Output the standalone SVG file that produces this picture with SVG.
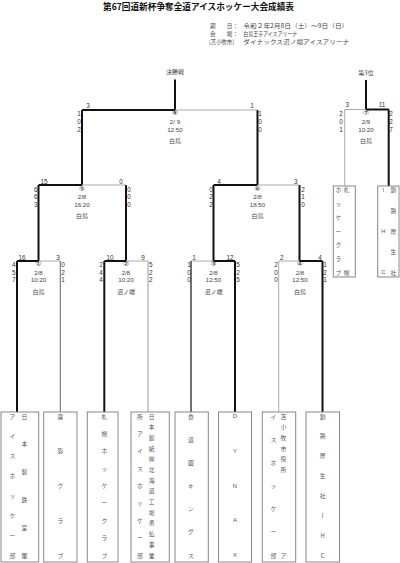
<svg xmlns="http://www.w3.org/2000/svg" width="400" height="563" viewBox="0 0 400 563">
<style>
text{font-family:"Noto Sans CJK JP","Noto Sans",sans-serif;fill:#333;}
.ttl{font-size:8.6px;font-weight:bold;fill:#111;}
.hd{font-size:5.6px;fill:#444;}
.c{font-size:6px;text-anchor:middle;dominant-baseline:central;fill:#444;}
.cn{font-family:"Liberation Sans",sans-serif;font-size:6.2px;text-anchor:middle;dominant-baseline:central;fill:#444;}
.cc{font-family:"DejaVu Sans",sans-serif;font-size:6.6px;text-anchor:middle;dominant-baseline:central;fill:#222;}
.s{font-family:"Liberation Sans",sans-serif;font-size:6.4px;text-anchor:middle;dominant-baseline:central;fill:#333;}
.nm{font-size:5.8px;text-anchor:middle;dominant-baseline:central;fill:#555;}
.nml{font-family:"Liberation Sans",sans-serif;font-size:6px;text-anchor:middle;dominant-baseline:central;fill:#555;}
.box{fill:#fff;stroke:#888;stroke-width:1;}
.w{stroke:#111;stroke-width:2;fill:none;}
.l{stroke:#aaa;stroke-width:1;fill:none;}
.lg{stroke:#bbb;stroke-width:1.5;fill:none;}
.d{stroke:#666;stroke-width:1;fill:none;}
.k{stroke:#222;stroke-width:1.3;fill:none;}
</style>
<rect width="400" height="563" fill="#fff"/>
<g id="header">
<text class="ttl" x="198.5" y="10.3" text-anchor="middle" textLength="191" lengthAdjust="spacingAndGlyphs">第67回道新杯争奪全道アイスホッケー大会成績表</text>
<text class="hd" x="210" y="28">期　　日：</text>
<text class="hd" x="243.3" y="28" textLength="105" lengthAdjust="spacingAndGlyphs">令和２年2月8日（土）～9日（日）</text>
<text class="hd" x="210" y="35.5">会　　場：</text>
<text class="hd" x="243.3" y="35.5" textLength="54" lengthAdjust="spacingAndGlyphs">白鳥王子アイスアリーナ</text>
<text class="hd" x="209" y="43.5" textLength="25" lengthAdjust="spacingAndGlyphs">[苫小牧市]</text>
<text class="hd" x="243.3" y="43.5" textLength="106" lengthAdjust="spacingAndGlyphs">ダイナックス沼ノ端アイスアリーナ</text>
</g>
<g id="connectors">
<path class="w" d="M175 79.5V110M82 110H175M82 110V185M257.5 110V185"/>
<path class="l" d="M175 110H257.5"/>
<path class="w" d="M38.5 185H82M38.5 185V261M126 185V261"/>
<path class="l" d="M82 185H126"/>
<path class="w" d="M213.5 185H257.5M213.5 185V261M299.5 185V261"/>
<path class="l" d="M257.5 185H299.5"/>
<path class="w" d="M17 261H38.5M17 261V412"/>
<path class="l" d="M38.5 261H60.3"/>
<path class="d" d="M60.3 261V412"/>
<path class="w" d="M104.3 261H126M104.3 261V412"/>
<path class="l" d="M126 261H148"/>
<path class="lg" d="M148 261V412"/>
<path class="l" d="M191 261H213.5"/>
<path class="k" d="M191 261V412"/>
<path class="w" d="M213.5 261H235M235 261V412"/>
<path class="l" d="M278.7 261H299.5M278.7 261V412"/>
<path class="w" d="M299.5 261H322.5M322.5 261V412"/>
<path class="w" d="M366 80V109.5M366 109.5H388.7M388.7 109.5V186"/>
<path class="l" d="M344.7 109.5H366M344.7 109.5V186"/>
</g>
<g id="m8">
<text class="c" x="175" y="71.7">決勝戦</text>
<text class="s" x="88" y="105">3</text><text class="s" x="252" y="105">1</text>
<text class="s" x="79" y="113">1</text><text class="s" x="79" y="121">0</text><text class="s" x="79" y="129">2</text>
<text class="s" x="260" y="113">1</text><text class="s" x="260" y="121">0</text><text class="s" x="260" y="129">0</text>
<text class="cc" x="175" y="113">⑧</text><text class="cn" x="175" y="121">2/ 9</text><text class="cn" x="175" y="129">12:50</text><text class="c" x="175" y="140">白鳥</text>
</g>
<g id="m7">
<text class="c" x="366" y="72">第3位</text>
<text class="s" x="347.3" y="104.5">3</text><text class="s" x="382" y="104.5">11</text>
<text class="s" x="341" y="113">2</text><text class="s" x="341" y="121">0</text><text class="s" x="341" y="129">1</text>
<text class="s" x="391" y="113">2</text><text class="s" x="391" y="121">2</text><text class="s" x="391" y="129">7</text>
<text class="cc" x="366" y="113">⑦</text><text class="cn" x="366" y="121">2/9</text><text class="cn" x="366" y="129">10:20</text><text class="c" x="366" y="140">白鳥</text>
</g>
<g id="m5">
<text class="s" x="44" y="181.5">15</text><text class="s" x="121" y="181.5">0</text>
<text class="s" x="35.7" y="189">6</text><text class="s" x="35.7" y="196.7">6</text><text class="s" x="35.7" y="204.4">3</text>
<text class="s" x="129" y="189">0</text><text class="s" x="129" y="196.7">0</text><text class="s" x="129" y="204.4">0</text>
<text class="cc" x="82" y="189">⑤</text><text class="cn" x="82" y="196.7">2/8</text><text class="cn" x="82" y="204.4">16:20</text><text class="c" x="82" y="215.5">白鳥</text>
</g>
<g id="m6">
<text class="s" x="219" y="181.5">4</text><text class="s" x="295.7" y="181.5">3</text>
<text class="s" x="211" y="189">0</text><text class="s" x="211" y="196.7">2</text><text class="s" x="211" y="204.4">2</text>
<text class="s" x="303" y="189">2</text><text class="s" x="303" y="196.7">1</text><text class="s" x="303" y="204.4">0</text>
<text class="cc" x="257.5" y="189">⑥</text><text class="cn" x="257.5" y="196.7">2/8</text><text class="cn" x="257.5" y="204.4">18:50</text><text class="c" x="257.5" y="215.5">白鳥</text>
</g>
<g id="m1">
<text class="s" x="22" y="257">16</text><text class="s" x="58" y="257">3</text>
<text class="s" x="13.7" y="264.3">4</text><text class="s" x="13.7" y="272">5</text><text class="s" x="13.7" y="279.7">7</text>
<text class="s" x="63" y="264.3">0</text><text class="s" x="63" y="272">2</text><text class="s" x="63" y="279.7">1</text>
<text class="cc" x="38.5" y="264.3">①</text><text class="cn" x="38.5" y="272">2/8</text><text class="cn" x="38.5" y="279.7">10:20</text><text class="c" x="38.5" y="291">白鳥</text>
</g>
<g id="m2">
<text class="s" x="110" y="257">10</text><text class="s" x="143" y="257">9</text>
<text class="s" x="101" y="264.3">2</text><text class="s" x="101" y="272">4</text><text class="s" x="101" y="279.7">4</text>
<text class="s" x="150.7" y="264.3">5</text><text class="s" x="150.7" y="272">2</text><text class="s" x="150.7" y="279.7">2</text>
<text class="cc" x="126" y="264.3">②</text><text class="cn" x="126" y="272">2/8</text><text class="cn" x="126" y="279.7">10:20</text><text class="c" x="126" y="291">沼ノ端</text>
</g>
<g id="m3">
<text class="s" x="194" y="257">1</text><text class="s" x="230" y="257">12</text>
<text class="s" x="189" y="264.3">1</text><text class="s" x="189" y="272">0</text><text class="s" x="189" y="279.7">0</text>
<text class="s" x="238" y="264.3">5</text><text class="s" x="238" y="272">2</text><text class="s" x="238" y="279.7">5</text>
<text class="cc" x="213.5" y="264.3">③</text><text class="cn" x="213.5" y="272">2/8</text><text class="cn" x="213.5" y="279.7">12:50</text><text class="c" x="213.5" y="291">沼ノ端</text>
</g>
<g id="m4">
<text class="s" x="281.7" y="257">2</text><text class="s" x="320" y="257">4</text>
<text class="s" x="276" y="264.3">2</text><text class="s" x="276" y="272">0</text><text class="s" x="276" y="279.7">0</text>
<text class="s" x="325" y="264.3">1</text><text class="s" x="325" y="272">2</text><text class="s" x="325" y="279.7">1</text>
<text class="cc" x="300" y="264.3">④</text><text class="cn" x="300" y="272">2/8</text><text class="cn" x="300" y="279.7">12:50</text><text class="c" x="300" y="291">白鳥</text>
</g>
<g id="team-nipponsteel">
<rect class="box" x="1" y="412" width="37.7" height="150"/>
<text class="nm" x="24.3 24.3 24.3 24.3 24.3 24.3" y="416 443.8 471.6 499.4 527.2 555">日本製鉄室蘭</text>
<text class="nm" x="12.3 12.3 12.3 12.3 12.3 12.3 12.3 12.3" y="416 435.9 455.7 475.6 495.4 515.3 535.1 555">アイスホッケー部</text>
</g>
<g id="team-kirikage">
<rect class="box" x="43.7" y="412" width="33.3" height="150"/>
<text class="nm" x="60.3 60.3 60.3 60.3 60.3" y="416 450.75 485.5 520.25 555">霧影クラブ</text>
</g>
<g id="team-sapporo">
<rect class="box" x="87.3" y="412" width="30.7" height="150"/>
<text class="nm" x="104.3 104.3 104.3 104.3 104.3 104.3 104.3 104.3 104.3" y="416 433.4 450.75 468.1 485.5 502.9 520.25 537.6 555">札幌ホッケークラブ</text>
</g>
<g id="team-nipponpaper">
<rect class="box" x="131" y="412" width="38.3" height="150"/>
<text class="nm" x="151.7 151.7 151.7 151.7 151.7 151.7 151.7 151.7 151.7 151.7 151.7 151.7 151.7 151.7" y="416 426.7 437.4 448.1 458.8 469.5 480.1 490.8 501.5 512.2 522.9 533.6 544.3 555">日本製紙㈱北海道工場勇払事業</text>
<text class="nm" x="140 140 140 140 140 140 140 140 140" y="416 433.4 450.75 468.1 485.5 502.9 520.25 537.6 555">所アイスホッケー部</text>
</g>
<g id="team-shokudoen">
<rect class="box" x="175" y="412" width="33.3" height="150"/>
<text class="nm" x="191 191 191 191 191 191 191" y="416 439.2 462.3 485.5 508.7 531.8 555">食道園キングス</text>
</g>
<g id="team-dynax">
<rect class="box" x="218.5" y="412" width="33" height="150"/>
<text class="nml" x="235 235 235 235 235" y="416 450.75 485.5 520.25 555">DYNAX</text>
</g>
<g id="team-tomakomai">
<rect class="box" x="262.3" y="412" width="33.4" height="150"/>
<text class="nm" x="283.3 283.3 283.3 283.3 283.3 283.3 283.3" y="416 426.7 437.4 448.1 458.8 469.5 555">苫小牧市役所ア</text>
<text class="nm" x="273.3 273.3 273.3 273.3 273.3 273.3 273.3" y="416 439.2 462.3 485.5 508.7 531.8 555">イスホッケー部</text>
</g>
<g id="team-kushiro">
<rect class="box" x="306" y="412" width="33.5" height="150"/>
<text class="nm" x="322.7 322.7 322.7 322.7 322.7 322.7 322.7 322.7" y="416 435.9 455.7 475.6 495.4 515.3 535.1 555">釧路厚生社IHC</text>
</g>
<g id="third-sapporo">
<rect class="box" x="333.3" y="186" width="22" height="91"/>
<text class="nm" x="346.7 346.7" y="189.7 272.3">札幌</text>
<text class="nm" x="338.3 338.3 338.3 338.3 338.3 338.3 338.3" y="189.7 203.5 217.2 231 244.8 258.5 272.3">ホッケークラブ</text>
</g>
<g id="third-kushiro">
<rect class="box" x="377.7" y="186" width="21.3" height="91"/>
<text class="nm" x="393.3 393.3 393.3 393.3 393.3" y="189.7 210.35 231 251.65 272.3">釧路厚生社</text>
<text class="nml" x="383.3 383.3 383.3" y="189.7 231 272.3">IHC</text>
</g>
</svg>
